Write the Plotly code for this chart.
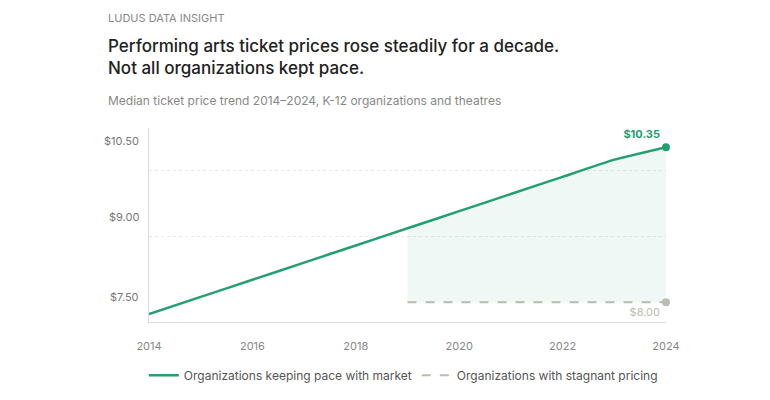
import plotly.graph_objects as go

years = list(range(2014, 2025))
keeping_pace = [7.82, 8.08, 8.34, 8.60, 8.86, 9.12, 9.38, 9.64, 9.90, 10.16, 10.35]
stagnant_years = [2019, 2024]
stagnant = [8.00, 8.00]
y_labels = ["$10.50", "$9.00", "$7.50"]
y_label_pos = [10.44, 9.29, 8.08]
x_ticks = [2014, 2016, 2018, 2020, 2022, 2024]

GREEN = "#23a06e"
GREY = "#bdbab3"

fig = go.Figure()
fig.add_trace(go.Scatter(x=years, y=keeping_pace, mode="lines",
                         line=dict(color=GREEN, width=2.5, shape="spline", smoothing=0.3),
                         name="Organizations keeping pace with market"))
fig.add_trace(go.Scatter(x=stagnant_years, y=stagnant, mode="lines", line=dict(color=GREY, width=2, dash="dash"),
                         name="Organizations with stagnant pricing"))
# shaded gap between the two groups
fill_years = years[5:]
fig.add_trace(go.Scatter(x=fill_years, y=[8.00] * len(fill_years), mode="lines",
                         line=dict(width=0), showlegend=False, hoverinfo="skip"))
fig.add_trace(go.Scatter(x=fill_years, y=keeping_pace[5:], mode="lines", line=dict(width=0),
                         fill="tonexty", fillcolor="rgba(35,160,110,0.07)",
                         showlegend=False, hoverinfo="skip"))
fig.add_trace(go.Scatter(x=[years[-1]], y=[keeping_pace[-1]], mode="markers+text", marker=dict(color=GREEN, size=8),
                         text=["<b>$10.35</b>"], textposition="top left", textfont=dict(color=GREEN, size=11),
                         showlegend=False, cliponaxis=False))
fig.add_trace(go.Scatter(x=[stagnant_years[-1]], y=[stagnant[-1]], mode="markers+text", marker=dict(color=GREY, size=8),
                         text=["$8.00"], textposition="bottom left", textfont=dict(color=GREY, size=11),
                         showlegend=False, cliponaxis=False))

for lab, pos in zip(y_labels, y_label_pos):
    fig.add_annotation(x=0, xref="paper", xanchor="right", xshift=-8, y=pos, yref="y",
                       text=lab, showarrow=False, font=dict(size=11, color="#777"))

fig.add_annotation(x=-0.083, xref="paper", y=1.567, yref="paper", xanchor="left", yanchor="middle", showarrow=False,
                   text="LUDUS DATA INSIGHT", font=dict(size=11, color="#888"))
fig.add_annotation(x=-0.083, xref="paper", y=1.366, yref="paper", xanchor="left", yanchor="middle", showarrow=False,
                   align="left", text="Performing arts ticket prices rose steadily for a decade.<br>Not all organizations kept pace.",
                   font=dict(size=17, color="#222", weight=500))
fig.add_annotation(x=-0.083, xref="paper", y=1.144, yref="paper", xanchor="left", yanchor="middle", showarrow=False,
                   text="Median ticket price trend 2014–2024, K-12 organizations and theatres",
                   font=dict(size=12, color="#888"))

fig.update_layout(
    width=770, height=400, margin=dict(l=141, r=112, t=120, b=86),
    paper_bgcolor="white", plot_bgcolor="white",
    font=dict(family="Inter, Liberation Sans, sans-serif", color="#777"),
    xaxis=dict(range=[2014, 2024], tickvals=x_ticks, showgrid=False, showline=True, linecolor="#ddd",
               ticks="", tickfont=dict(size=11, color="#888"), ticklabelstandoff=14, zeroline=False),
    yaxis=dict(range=[7.70, 10.64], tickvals=[9, 10], showticklabels=False, gridcolor="#e8e8e8", griddash="dot",
               showline=True, linecolor="#ddd", zeroline=False),
    legend=dict(orientation="h", x=-0.01, y=-0.2, xanchor="left", yanchor="top", traceorder="normal",
                font=dict(size=12, color="#555")),
)
fig.write_html("out.html")
